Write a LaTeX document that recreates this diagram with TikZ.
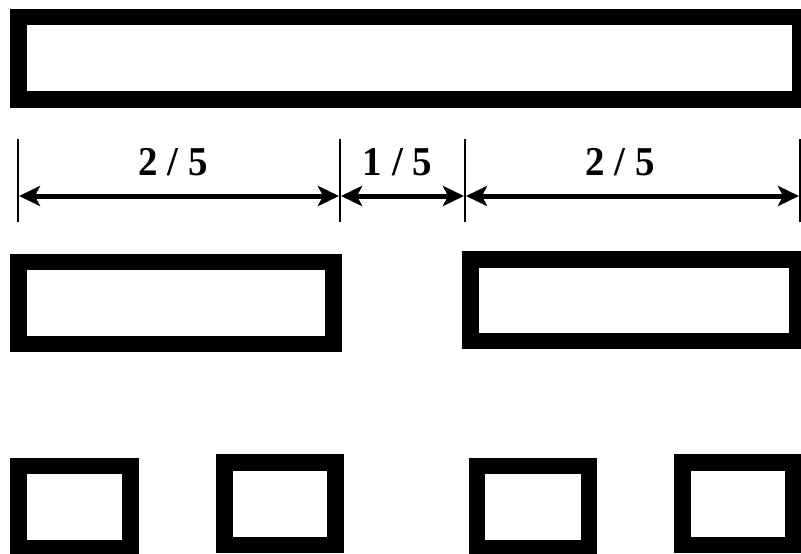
\documentclass[tikz,border=0pt]{standalone}
\usepackage{fontspec}
\setmainfont{Liberation Serif}
\usetikzlibrary{arrows.meta}
\begin{document}
\begin{tikzpicture}[x=1pt,y=-1pt,
  bar/.style={draw=black,line width=16.5pt,line join=miter},
  tick/.style={draw=black,line width=2.5pt},
  dimline/.style={draw=black,line width=5pt,{Stealth[length=21pt,width=20pt,inset=5pt]}-{Stealth[length=21pt,width=20pt,inset=5pt]}},
  frac/.style={font=\bfseries\fontsize{41}{42}\selectfont,anchor=base,inner sep=0pt,xscale=0.95}]
\useasboundingbox (0,0) rectangle (801,554);
\fill[white] (0,0) rectangle (801,554);
% top bar
\draw[bar] (18.5,17) rectangle (800,99.5);
% dimension ticks
\coordinate (t1a) at (18,139);  \coordinate (t1b) at (18,222);
\coordinate (t2a) at (340,139); \coordinate (t2b) at (340,222);
\coordinate (t3a) at (465,139); \coordinate (t3b) at (465,222);
\coordinate (t4a) at (800,139); \coordinate (t4b) at (800,222);
\draw[tick] (t1a) -- (t1b);
\draw[tick] (t2a) -- (t2b);
\draw[tick] (t3a) -- (t3b);
\draw[tick] (t4a) -- (t4b);
\coordinate (a1) at (19,196);
\coordinate (a2) at (339,196);
\coordinate (a3) at (341,196);
\coordinate (a4) at (464,196);
\coordinate (a5) at (466,196);
\coordinate (a6) at (799,196);
\draw[dimline] (a1) -- (a2);
\draw[dimline] (a3) -- (a4);
\draw[dimline] (a5) -- (a6);
\node[frac] (l1) at (173,175.5) {2 / 5};
\node[frac] (l2) at (397.5,175.5) {1 / 5};
\node[frac] (l3) at (620,175.5) {2 / 5};
% middle bars
\draw[bar] (18.5,262.2) rectangle (333.5,344);
\draw[bar] (470.5,259.7) rectangle (797.5,341.2);
% bottom boxes
\draw[bar] (18.5,466.2) rectangle (130.7,548.3);
\draw[bar] (224.3,462.3) rectangle (335.5,545);
\draw[bar] (477,466.2) rectangle (589,548.3);
\draw[bar] (682.5,462.3) rectangle (793.5,545);
\end{tikzpicture}
\end{document}
